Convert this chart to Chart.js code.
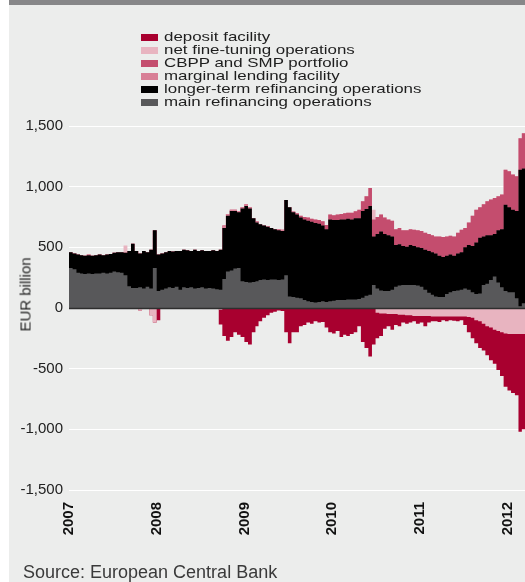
<!DOCTYPE html>
<html>
<head>
<meta charset="utf-8">
<script src="https://cdn.jsdelivr.net/npm/chart.js@4.4.1/dist/chart.umd.min.js"></script>
<style>
  html, body { margin: 0; padding: 0; background: #ffffff; }
  #wrap { position: relative; width: 525px; height: 582px; overflow: hidden; background: #ffffff; }
  #panel { position: absolute; left: 9px; top: 0; width: 516px; height: 582px; background: #ecedec; }
  #topbar { position: absolute; left: 9px; top: 0; width: 516px; height: 5px; background: #878789; }
  #chart { position: absolute; left: 0; top: 0; }
  .lg { position: absolute; left: 141px; height: 13px; width: 330px; font-family: 'Liberation Sans', Arial, sans-serif; font-size: 13px; line-height: 13px; color: #1e1e1e; }
  .lg .sw { position: absolute; left: 0; top: 3px; width: 17px; height: 7px; }
  .lg .tx { position: absolute; left: 23px; top: -1px; white-space: nowrap; transform: scaleX(1.3); transform-origin: 0 50%; }
  #ytitle { position: absolute; left: -25px; top: 286.5px; width: 100px; height: 15px; line-height: 15px; text-align: center; font-family: 'Liberation Sans', Arial, sans-serif; font-size: 15px; font-weight: normal; color: #262626; transform: rotate(-90deg); transform-origin: 50% 50%; white-space: nowrap; }
  #source { position: absolute; left: 23px; top: 563px; font-family: 'Liberation Sans', Arial, sans-serif; font-size: 18px; line-height: 18px; color: #3a3a3a; white-space: nowrap; }
</style>
</head>
<body>
<div id="wrap">
  <div id="panel"></div>
  <div id="topbar"></div>
  <canvas id="chart" width="525" height="582"></canvas>
  <div id="legend"></div>
  <div id="ytitle">EUR billion</div>
  <div id="source">Source: European Central Bank</div>
</div>
<script>
// ---- data (EUR billion), semi-monthly readings ----
const dates = [
'2007-01-01','2007-01-16','2007-02-01','2007-02-16','2007-03-01','2007-03-16','2007-04-01','2007-04-16','2007-05-01','2007-05-16','2007-06-01','2007-06-16',
'2007-07-01','2007-07-16','2007-08-01','2007-08-16','2007-09-01','2007-09-16','2007-10-01','2007-10-16','2007-11-01','2007-11-16','2007-12-01','2007-12-16',
'2008-01-01','2008-01-16','2008-02-01','2008-02-16','2008-03-01','2008-03-16','2008-04-01','2008-04-16','2008-05-01','2008-05-16','2008-06-01','2008-06-16',
'2008-07-01','2008-07-16','2008-08-01','2008-08-16','2008-09-01','2008-09-16','2008-10-01','2008-10-16','2008-11-01','2008-11-16','2008-12-01','2008-12-16',
'2009-01-01','2009-01-16','2009-02-01','2009-02-16','2009-03-01','2009-03-16','2009-04-01','2009-04-16','2009-05-01','2009-05-16','2009-06-01','2009-06-16',
'2009-07-01','2009-07-16','2009-08-01','2009-08-16','2009-09-01','2009-09-16','2009-10-01','2009-10-16','2009-11-01','2009-11-16','2009-12-01','2009-12-16',
'2010-01-01','2010-01-16','2010-02-01','2010-02-16','2010-03-01','2010-03-16','2010-04-01','2010-04-16','2010-05-01','2010-05-16','2010-06-01','2010-06-16',
'2010-07-01','2010-07-16','2010-08-01','2010-08-16','2010-09-01','2010-09-16','2010-10-01','2010-10-16','2010-11-01','2010-11-16','2010-12-01','2010-12-16',
'2011-01-01','2011-01-16','2011-02-01','2011-02-16','2011-03-01','2011-03-16','2011-04-01','2011-04-16','2011-05-01','2011-05-16','2011-06-01','2011-06-16',
'2011-07-01','2011-07-16','2011-08-01','2011-08-16','2011-09-01','2011-09-16','2011-10-01','2011-10-16','2011-11-01','2011-11-16','2011-12-01','2011-12-16',
'2012-01-01','2012-01-16','2012-02-01','2012-02-16','2012-03-01','2012-03-16'
];

const mainRefinancing = [
330,320,290,285,280,285,280,285,285,290, 285,290,300,295,290,270,180,165,165,170,
160,175,160,330,140,150,160,170,165,175, 150,170,165,170,160,165,170,160,165,160,
155,150,240,300,310,325,330,220,215,210, 215,220,230,235,230,235,235,230,235,270,
95,90,85,80,65,55,50,45,50,55, 50,55,60,65,65,65,70,70,70,75,
85,100,110,190,160,145,140,140,150,175, 185,190,190,190,190,185,175,150,125,110,
95,90,90,115,130,140,145,150,160,150, 130,115,120,190,200,230,260,210,170,140,
130,130,80,15,40,55
];

const longerTermRefinancing = [
130,130,150,150,150,150,150,150,155,145, 155,155,155,165,170,185,290,365,305,280,
310,285,320,310,300,300,300,300,300,295, 320,310,310,300,320,305,305,310,305,315,
315,330,420,460,490,475,460,600,625,610, 525,485,460,445,440,425,415,410,400,620,
735,700,685,665,665,665,660,655,645,625, 600,675,665,660,665,665,665,660,670,665,
715,715,730,400,450,485,470,460,440,345, 340,320,315,330,320,315,320,330,345,350,
355,340,330,315,310,290,305,310,340,370, 380,425,460,400,400,370,350,430,480,710,
700,680,720,1125,1110,1105
];

const marginalLending = [
0,0,0,0,0,5,0,0,5,0, 0,0,0,0,0,0,0,0,0,0,
0,0,0,0,0,0,0,0,0,0, 0,0,0,0,0,0,0,0,0,0,
0,0,20,15,10,10,5,10,15,10, 0,10,0,0,5,0,0,10,10,0,
0,0,0,0,0,0,0,0,0,0, 0,0,0,0,0,0,0,0,0,0,
0,0,0,0,0,0,0,0,0,0, 0,0,0,0,0,0,0,0,0,0,
0,0,0,0,0,0,0,0,0,0, 0,0,0,0,0,0,0,0,0,0,
0,0,0,0,0,0
];

const cbppSmp = [
0,0,0,0,0,0,0,0,0,0, 0,0,0,0,0,0,0,0,0,0,
0,0,0,0,0,0,0,0,0,0, 0,0,0,0,0,0,0,0,0,0,
0,0,0,0,0,0,0,0,0,0, 0,0,0,0,0,0,0,0,0,0,
0,5,10,15,20,25,25,30,30,35, 35,40,40,45,45,50,50,55,57,70,
80,105,150,140,140,140,135,130,130,130, 135,130,135,130,135,140,140,140,140,140,
140,160,165,160,155,160,170,185,160,185, 250,270,250,265,280,294,297,280,285,290,
297,290,286,260,290,285
];

const netFineTuning = [
0,0,0,0,0,0,0,0,0,0, 0,0,0,0,0,60,0,0,0,-20,
0,0,-60,-120,0,0,0,0,0,0, 0,0,0,0,0,0,0,0,0,0,
0,-15,0,0,0,0,0,0,0,0, 0,0,0,0,0,0,0,0,0,0,
0,0,0,0,0,0,0,0,0,0, 0,0,0,0,0,0,0,0,0,0,
0,0,0,80,-40,-45,-45,-50,-50,-50, -55,-55,-60,-60,-65,-65,-65,-65,-65,-70,
-70,-70,-70,-70,-70,-70,-70,-70,-70,-75, -80,-100,-110,-130,-150,-160,-180,-190,-200,-210,
-215,-215,-215,-215,-215,-215
];

const depositFacility = [
0,0,0,0,0,0,0,0,0,0, 0,0,0,0,0,0,0,0,0,0,
0,0,0,0,-100,0,0,0,0,0, 0,0,0,0,0,0,0,0,0,0,
0,-120,-230,-270,-240,-200,-220,-240,-280,-300, -200,-150,-110,-80,-60,-40,-30,-20,-25,-200,
-290,-200,-200,-150,-140,-120,-130,-110,-120,-115, -160,-200,-210,-190,-240,-220,-230,-215,-200,-150,
-280,-330,-400,-300,-210,-185,-125,-100,-130,-90, -95,-65,-70,-60,-45,-65,-55,-85,-55,-40,
-40,-45,-30,-40,-30,-35,-40,-30,-70,-125, -170,-190,-220,-220,-240,-270,-280,-320,-360,-440,
-465,-485,-505,-805,-785,-785
];

const yearTicks = [2007, 2008, 2009, 2010, 2011, 2012];
const valueTicks = [-1500, -1000, -500, 0, 500, 1000, 1500];

const legendItems = [
  ['deposit facility', '#a8002f'],
  ['net fine-tuning operations', '#e8b4c0'],
  ['CBPP and SMP portfolio', '#c44d6e'],
  ['marginal lending facility', '#d87f96'],
  ['longer-term refinancing operations', '#000000'],
  ['main refinancing operations', '#58585a']
];
const colors = Object.fromEntries(legendItems.map(([l, c]) => [l, c]));

// ---- helpers ----
function toYear(s) {
  const [y, m, d] = s.split('-').map(Number);
  const a = Date.UTC(y, 0, 1), b = Date.UTC(y + 1, 0, 1);
  return y + (Date.UTC(y, m - 1, d) - a) / (b - a);
}
const xs = dates.map(toYear);

function area(label, data, color, stack) {
  return {
    label, data, stack,
    backgroundColor: color, borderColor: 'rgba(0,0,0,0)', borderWidth: 0,
    pointRadius: 0, pointHoverRadius: 0, fill: 'origin', stepped: true, tension: 0
  };
}

// legend (HTML)
const lg = document.getElementById('legend');
legendItems.forEach(([label, color], k) => {
  const row = document.createElement('div');
  row.className = 'lg';
  row.style.top = (30.8 + k * 13.08) + 'px';
  row.innerHTML = '<span class="sw" style="background:' + color + '"></span><span class="tx">' + label + '</span>';
  lg.appendChild(row);
});

const zeroLine = {
  id: 'zeroLine',
  afterDatasetsDraw(chart) {
    const { ctx, chartArea, scales } = chart;
    const py = Math.round(scales.y.getPixelForValue(0)) + 0.5;
    ctx.save();
    ctx.strokeStyle = '#2e2e2e';
    ctx.lineWidth = 1.5;
    ctx.beginPath();
    ctx.moveTo(chartArea.left, py);
    ctx.lineTo(chartArea.right, py);
    ctx.stroke();
    ctx.restore();
  }
};

const FONT = "'Liberation Sans', Arial, Helvetica, sans-serif";

new Chart(document.getElementById('chart'), {
  type: 'line',
  data: {
    labels: xs,
    datasets: [
      area('main refinancing operations', mainRefinancing, colors['main refinancing operations'], 'pos'),
      area('longer-term refinancing operations', longerTermRefinancing, colors['longer-term refinancing operations'], 'pos'),
      area('marginal lending facility', marginalLending, colors['marginal lending facility'], 'pos'),
      area('CBPP and SMP portfolio', cbppSmp, colors['CBPP and SMP portfolio'], 'pos'),
      area('net fine-tuning operations (providing)', netFineTuning.map(v => Math.max(v, 0)), colors['net fine-tuning operations'], 'pos'),
      area('net fine-tuning operations (absorbing)', netFineTuning.map(v => Math.min(v, 0)), colors['net fine-tuning operations'], 'neg'),
      area('deposit facility', depositFacility, colors['deposit facility'], 'neg')
    ]
  },
  options: {
    responsive: false,
    animation: false,
    events: [],
    layout: { padding: { left: 9, right: 0, top: 126, bottom: 32 } },
    plugins: { legend: { display: false }, tooltip: { enabled: false } },
    scales: {
      x: {
        type: 'linear',
        min: 2007, max: 2012.2,
        afterFit(scale) { scale.height = 60; scale.paddingLeft = 0; scale.paddingRight = 0; },
        afterBuildTicks(scale) { scale.ticks = yearTicks.map(v => ({ value: v })); },
        grid: { display: false, drawTicks: false },
        border: { display: false },
        ticks: {
          autoSkip: false, maxRotation: 90, minRotation: 90, padding: 12,
          color: '#111', font: { family: FONT, size: 15, weight: 'bold' },
          callback: v => String(v)
        }
      },
      y: {
        stacked: true,
        min: -1500, max: 1500,
        afterFit(scale) { scale.width = 60; scale.paddingTop = 0; scale.paddingBottom = 0; },
        afterBuildTicks(scale) { scale.ticks = valueTicks.map(v => ({ value: v })); },
        grid: { color: '#ffffff', lineWidth: 1, drawTicks: false },
        border: { display: false },
        ticks: {
          padding: 6, color: '#222',
          font: { family: FONT, size: 15 },
          callback: v => v.toLocaleString('en-US')
        }
      }
    }
  },
  plugins: [zeroLine]
});
</script>
</body>
</html>
